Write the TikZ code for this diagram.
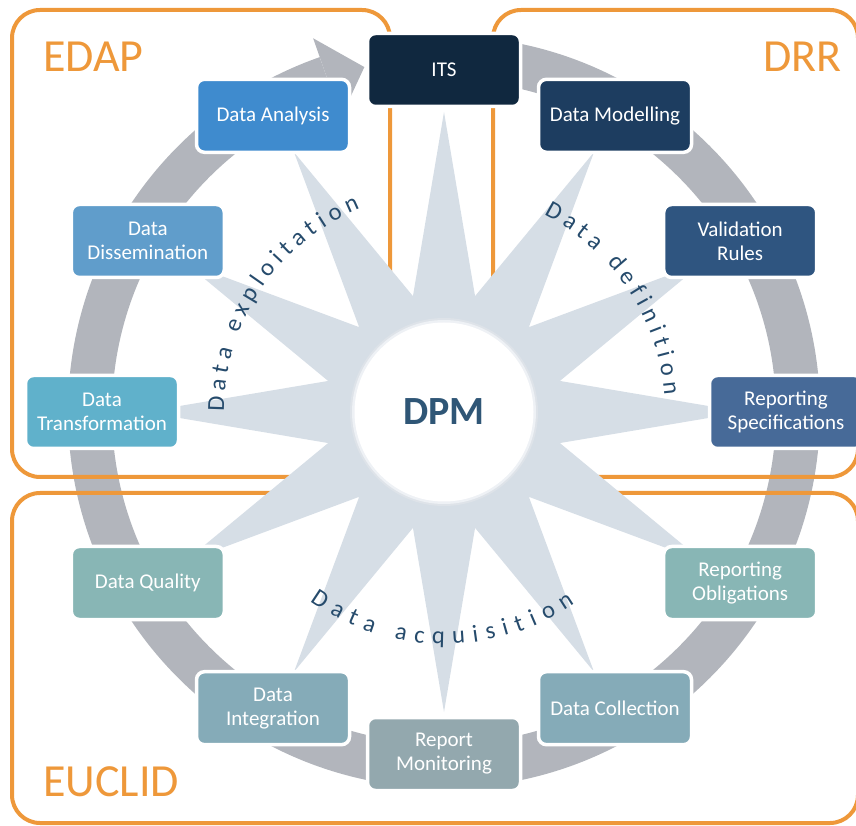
\documentclass[tikz,border=0pt]{standalone}
\usepackage{fontspec}
\setmainfont{Carlito}
\begin{document}
\begin{tikzpicture}[x=1pt,y=1pt]
\definecolor{orng}{RGB}{238,152,58}
\definecolor{ringgray}{RGB}{178,181,188}
\definecolor{stargray}{RGB}{214,222,230}
\definecolor{glowA}{RGB}{222,227,233}
\definecolor{glowB}{RGB}{238,241,245}
\definecolor{dpmblue}{RGB}{47,86,118}
\definecolor{curveblue}{RGB}{38,75,108}
\definecolor{cITS}{RGB}{16,40,63}
\definecolor{cMod}{RGB}{29,61,96}
\definecolor{cVal}{RGB}{47,85,128}
\definecolor{cSpec}{RGB}{71,106,152}
\definecolor{cObl}{RGB}{136,182,181}
\definecolor{cColl}{RGB}{133,171,184}
\definecolor{cMon}{RGB}{147,168,174}
\definecolor{cTrans}{RGB}{96,177,203}
\definecolor{cDiss}{RGB}{96,157,203}
\definecolor{cAna}{RGB}{63,139,206}
\tikzset{
  stagebox/.style={rounded corners=8pt, draw=white, line width=3.5pt,
    minimum width=153pt, minimum height=73pt, inner sep=0pt,
    text=white, align=center, font=\fontsize{21}{24}\selectfont},
  orangeframe/.style={draw=orng, line width=4pt, rounded corners=28pt},
  framelabel/.style={text=orng, inner sep=0pt, font=\fontsize{46}{46}\selectfont},
  curvechar/.style={text=curveblue, inner sep=0pt, anchor=base, font=\fontsize{24.5}{24.5}\selectfont}
}
\useasboundingbox (0,0) rectangle (856,825);
\clip (0,0) rectangle (856,825);
\coordinate (C) at (444,413);

% circular arrow ring
\begin{scope}[shift={(C)}]
  \draw[ringgray, line width=44pt] (88:354) arc[start angle=88, end angle=-250.7, radius=354];
  \fill[ringgray] (109.3:396) -- (103:354) -- (109.3:312) -- cycle;
\end{scope}

% orange frames
\draw[orangeframe] (12,348) rectangle (390,815);
\draw[orangeframe] (493,348) rectangle (858,815);
\draw[orangeframe] (12,2) rectangle (858,332);

% star
\begin{scope}[shift={(C)}]
  \fill[stargray] (0:300) \foreach \a in {0,30,...,330} { -- (\a:300) -- (\a+15:120) } -- cycle;
  \fill[glowA] (0,0) circle (94);
  \fill[glowB] (0,0) circle (92);
  \fill[white] (0,0) circle (89.5);
\end{scope}
\node[text=dpmblue, font=\fontsize{40}{40}\selectfont\bfseries] (dpm) at (C) {DPM};

% frame labels
\node[framelabel, anchor=base west] (edap) at (43,753) {EDAP};
\node[framelabel, anchor=base east] (drr) at (842,753) {DRR};
\node[framelabel, anchor=base west] (euclid) at (43,29) {EUCLID};

% stage boxes
\begin{scope}[shift={(C)}]
  \node[stagebox, fill=cITS] (its) at (90:342) {ITS};
  \node[stagebox, fill=cMod] (dmod) at (60:342) {Data Modelling};
  \node[stagebox, fill=cVal] (vrules) at (30:342) {Validation\\Rules};
  \node[stagebox, fill=cSpec] (rspec) at (0:342) {Reporting\\Specifications};
  \node[stagebox, fill=cObl] (robl) at (-30:342) {Reporting\\Obligations};
  \node[stagebox, fill=cColl] (dcoll) at (-60:342) {Data Collection};
  \node[stagebox, fill=cMon] (rmon) at (-90:342) {Report\\Monitoring};
  \node[stagebox, fill=cColl] (dint) at (-120:342) {Data\\Integration};
  \node[stagebox, fill=cObl] (dqual) at (-150:342) {Data Quality};
  \node[stagebox, fill=cTrans] (dtrans) at (180:342) {Data\\Transformation};
  \node[stagebox, fill=cDiss] (ddiss) at (150:342) {Data\\Dissemination};
  \node[stagebox, fill=cAna] (dana) at (120:342) {Data Analysis};

  % curved texts
  \foreach \ch/\ang [count=\i] in {D/178.0, a/173.12, t/169.10, a/165.07, e/157.61, x/153.25, p/148.81, l/144.96, o/141.11, i/137.26, t/133.96, a/129.94, t/125.92, i/122.63, o/118.77, n/114.06}
    \node[curvechar, rotate=\ang-90] (ex\i) at (\ang:220) {\ch};
  \foreach \ch/\ang [count=\i] in {D/61.2, a/56.32, t/52.30, a/48.27, d/40.73, e/36.10, f/32.11, i/28.91, n/25.06, i/21.21, t/17.92, i/14.63, o/10.77, n/6.06}
    \node[curvechar, rotate=\ang-90] (de\i) at (\ang:221) {\ch};
  \foreach \ch/\ang [count=\i] in {D/236.5, a/241.82, t/246.27, a/250.73, a/259.02, c/263.73, q/268.58, u/273.72, i/278.01, s/281.90, i/285.80, t/289.53, i/293.26, o/297.55, n/302.70}
    \node[curvechar, rotate=\ang+90] (ac\i) at (\ang:232) {\ch};
\end{scope}
\end{tikzpicture}
\end{document}
